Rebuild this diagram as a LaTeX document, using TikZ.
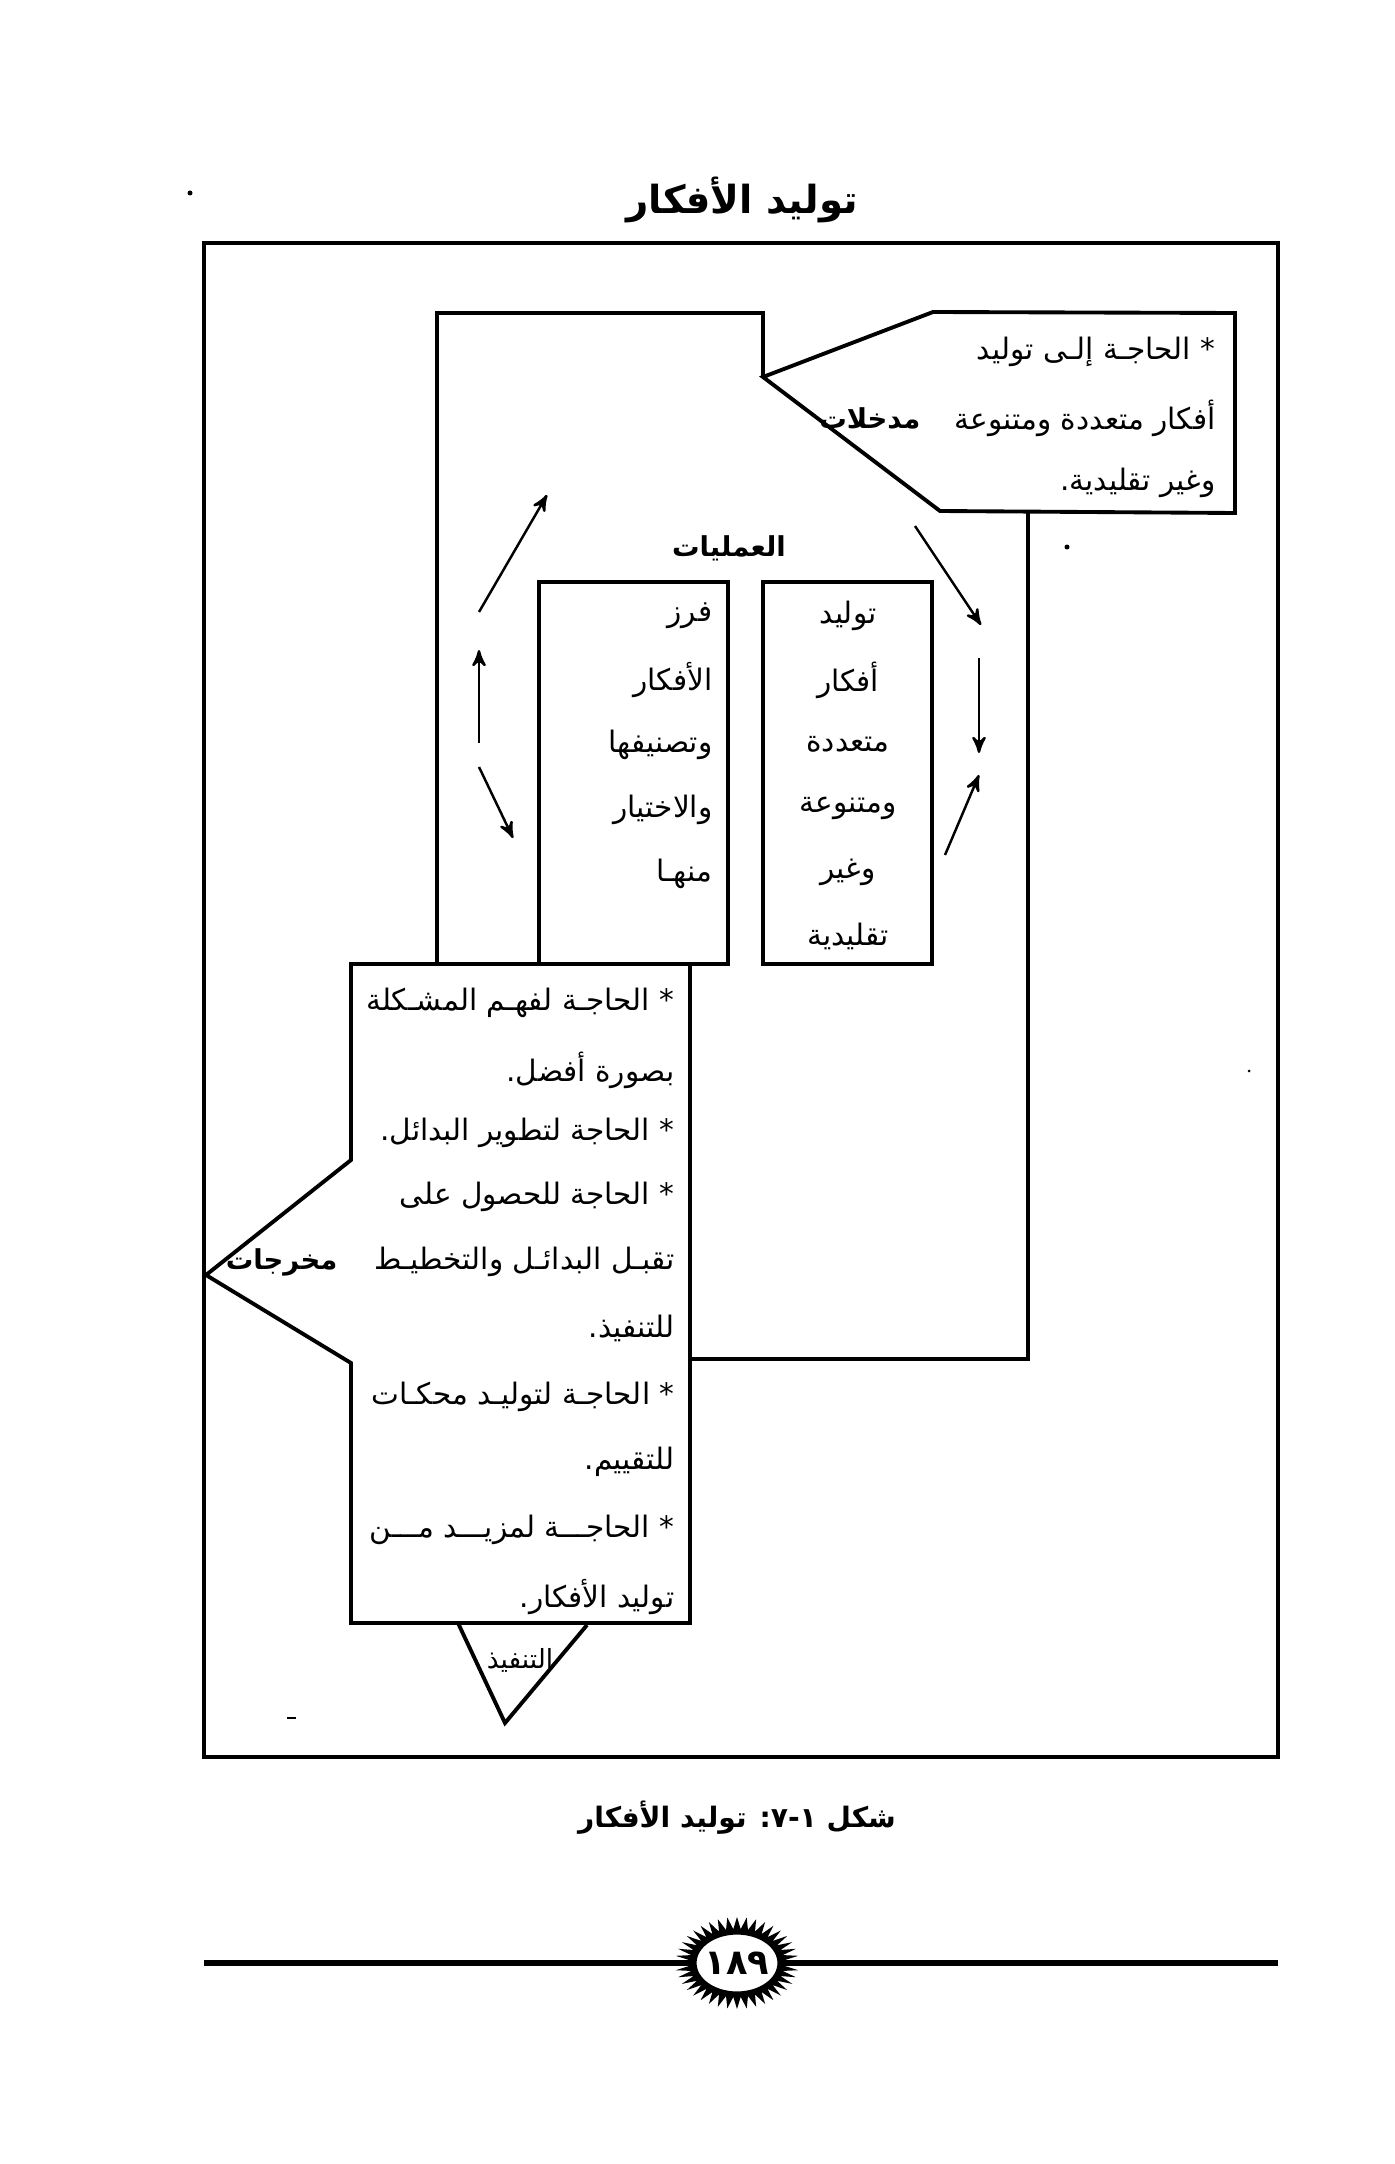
\documentclass[tikz,border=0pt]{standalone}
\usepackage{fontspec}
\newfontfamily\arabicfont[Script=Arabic]{DejaVu Sans}
\newfontfamily\digitfont{DejaVu Sans}
\TeXXeTstate=1
\usetikzlibrary{arrows,positioning,calc}
\newcommand{\artxt}[1]{{\arabicfont\beginR #1\endR}}

\begin{document}
\begin{tikzpicture}[x=0.01cm,y=-0.01cm,>=stealth',
        thick line/.style={line width=1.1pt},
        cyc/.style={->,line width=0.7pt},
        txt/.style={inner sep=0pt,font=\fontsize{8.4}{10}\selectfont},
        rtxt/.style={txt,anchor=east},
        btxt/.style={txt,font=\fontsize{7.8}{9}\selectfont\bfseries}]
    \useasboundingbox (0,0) rectangle (1394,2164);
    % frame
    \coordinate (fNW) at (204,243);
    \coordinate (fSE) at (1278,1757);
    \draw[line width=1.3pt] (fNW) rectangle (fSE);
    \node[font=\fontsize{11}{13}\selectfont\bfseries] (title) at (742,200) {\artxt{توليد الأفكار}};
    % process loop
    \coordinate (mA) at (437,964);
    \coordinate (mB) at (437,313);
    \coordinate (mC) at (763,313);
    \coordinate (tipIn) at (763,377);
    \coordinate (inT) at (933,312);
    \coordinate (inNE) at (1235,313);
    \coordinate (inSE) at (1235,513);
    \coordinate (inS) at (940,511);
    \coordinate (mR1) at (1028,511);
    \coordinate (mR2) at (1028,1359);
    \coordinate (mR3) at (690,1359);
    \draw[thick line] (mA) -- (mB) -- (mC) -- (tipIn);
    \draw[thick line] (tipIn) -- (inT) -- (inNE) -- (inSE) -- (inS) -- cycle;
    \draw[thick line] (mR1) -- (mR2) -- (mR3);
    % inputs
    \node[rtxt] (in1) at (1216,352) {\artxt{* الحاجـة إلـى توليد}};
    \node[rtxt] (in2) at (1216,418) {\artxt{أفكار متعددة ومتنوعة}};
    \node[rtxt] (in3) at (1216,483) {\artxt{وغير تقليدية.}};
    \node[btxt,anchor=east] (inLbl) at (921,418) {\artxt{مدخلات}};
    % processes
    \node[btxt] (proc) at (729,548) {\artxt{العمليات}};
    \draw[thick line] (539,582) rectangle (728,964);
    \draw[thick line] (763,582) rectangle (932,964);
    \foreach \t [count=\i] in {فرز,الأفكار,وتصنيفها,والاختيار,منهـا}
        \node[rtxt] (sort\i) at (713,{616+64.5*(\i-1)}) {\artxt{\t}};
    \foreach \t [count=\i] in {توليد,أفكار,متعددة,ومتنوعة,وغير,تقليدية}
        \node[txt] (gen\i) at (848,{616+64*(\i-1)}) {\artxt{\t}};
    % loop arrows
    \coordinate (s1) at (479,612);  \coordinate (e1) at (547,495);
    \coordinate (s2) at (479,743);  \coordinate (e2) at (479,650);
    \coordinate (s3) at (479,767);  \coordinate (e3) at (513,838);
    \coordinate (s4) at (915,526);  \coordinate (e4) at (981,625);
    \coordinate (s5) at (979,658);  \coordinate (e5) at (979,753);
    \coordinate (s6) at (945,855);  \coordinate (e6) at (979,775);
    \foreach \i in {1,...,6}
        \draw[cyc] (s\i) -- (e\i);
    % outputs
    \coordinate (outNW) at (351,964);
    \coordinate (outNE) at (690,964);
    \coordinate (outSE) at (690,1623);
    \coordinate (outSW) at (351,1623);
    \coordinate (outL2) at (351,1363);
    \coordinate (tipOut) at (206,1275);
    \coordinate (outL1) at (351,1160);
    \draw[thick line] (outNW) -- (outNE) -- (outSE) -- (outSW) -- (outL2) -- (tipOut) -- (outL1) -- cycle;
    \foreach \t/\y in {* الحاجـة لفهـم المشـكلة/1003, بصورة أفضل./1070,
            * الحاجة لتطوير البدائل./1133, * الحاجة للحصول على/1197,
            تقبـل البدائـل والتخطيـط/1262, للتنفيذ./1328,
            * الحاجـة لتوليـد محكـات/1397, للتقييم./1462,
            * الحاجـــة لمزيـــد مـــن/1530, توليد الأفكار./1597}
        \node[rtxt] at (675,\y) {\artxt{\t}};
    \node[btxt,anchor=east] (outLbl) at (338,1262) {\artxt{مخرجات}};
    % execution
    \coordinate (trL) at (458,1623);
    \coordinate (trB) at (505,1723);
    \coordinate (trR) at (587,1625);
    \draw[thick line] (trL) -- (trB) -- (trR);
    \node[txt,font=\fontsize{7.5}{9}\selectfont] (exec) at (520,1660) {\artxt{التنفيذ}};
    % specks
    \fill (190,193) circle (2.5);
    \fill (1067,547) circle (2.5);
    \fill (1249,1071) circle (1.5);
    \draw[line width=0.5pt] (287,1718) -- (296,1718);
    % caption and page
    \node[btxt,font=\fontsize{8}{10}\selectfont\bfseries] (cap) at (737,1818) {\artxt{شكل ١-٧: توليد الأفكار}};
    \coordinate (badge) at (737,1963);
    \draw[line width=1.6pt] (204,1963) -- (1278,1963);
    \fill ($(badge)+(0:62 and 46)$) \foreach \i in {1,...,40} {
        -- ($(badge)+({\i*9-4.5}:47 and 34)$) -- ($(badge)+({\i*9}:62 and 46)$) } -- cycle;
    \filldraw[fill=white,line width=0.9pt] (badge) ellipse [x radius=42, y radius=30];
    \node[font=\fontsize{10}{12}\selectfont\bfseries\digitfont] (pg) at (badge) {١٨٩};
\end{tikzpicture}
\end{document}
